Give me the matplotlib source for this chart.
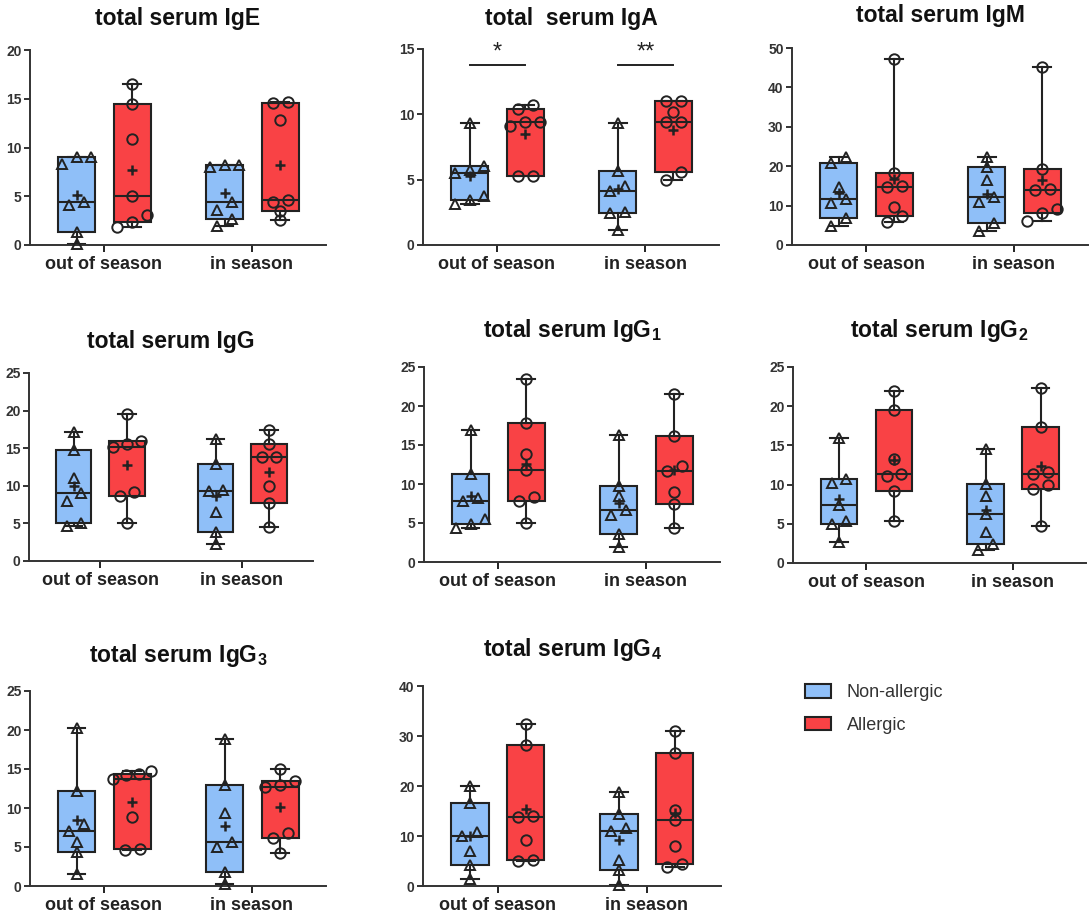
import matplotlib
matplotlib.use('Agg')
import matplotlib.pyplot as plt
from matplotlib.patches import Patch
import numpy as np

plt.rcParams['font.family'] = ['Liberation Sans', 'DejaVu Sans']
plt.rcParams['mathtext.default'] = 'regular'

W, H = 1091, 917
BLUE = '#8fbff8'
RED = '#f94245'
INK = '#222222'

seasons = ['out of season', 'in season']
groups = ['Non-allergic', 'Allergic']

# values, 7 subjects per group
ige_non_out = [9.0, 8.3, 9.0, 4.1, 4.4, 1.3, 0.1]
ige_all_out = [16.5, 14.5, 10.9, 5.0, 3.1, 2.4, 1.8]
ige_non_in = [8.2, 8.0, 8.2, 4.4, 3.6, 2.7, 2.0]
ige_all_in = [14.7, 14.6, 12.8, 4.6, 4.4, 3.5, 2.6]

iga_non_out = [9.35, 6.05, 5.75, 5.5, 3.75, 3.45, 3.15]
iga_all_out = [10.7, 10.4, 9.45, 9.45, 9.1, 5.3, 5.3]
iga_non_in = [9.3, 5.7, 4.5, 4.1, 2.55, 2.45, 1.15]
iga_all_in = [11.05, 11.05, 10.2, 9.4, 9.4, 5.55, 4.95]

igm_non_out = [22.4, 20.9, 14.8, 11.8, 10.6, 6.8, 4.9]
igm_all_out = [47.3, 18.3, 14.6, 15.0, 9.7, 7.3, 5.8]
igm_non_in = [22.4, 19.8, 16.5, 12.3, 11.0, 5.6, 3.6]
igm_all_in = [45.2, 19.4, 14.0, 14.3, 9.2, 8.1, 6.0]

igg_non_out = [17.2, 14.8, 11.0, 9.0, 8.0, 5.0, 4.7]
igg_all_out = [19.5, 16.0, 15.2, 15.5, 9.2, 8.6, 5.1]
igg_non_in = [16.2, 12.9, 9.4, 9.3, 6.5, 3.8, 2.3]
igg_all_in = [17.4, 15.5, 13.8, 13.8, 10.0, 7.7, 4.5]

igg1_non_out = [16.9, 11.3, 8.2, 7.8, 5.5, 4.9, 4.4]
igg1_all_out = [23.5, 17.8, 13.9, 11.8, 8.3, 7.8, 5.0]
igg1_non_in = [16.3, 9.7, 8.4, 6.7, 6.0, 3.6, 1.9]
igg1_all_in = [21.5, 16.2, 12.3, 11.7, 9.0, 7.4, 4.4]

igg2_non_out = [15.9, 10.7, 10.2, 7.4, 5.4, 5.0, 2.7]
igg2_all_out = [21.9, 19.5, 13.3, 11.1, 11.4, 9.2, 5.4]
igg2_non_in = [14.5, 10.1, 8.5, 6.3, 3.9, 2.4, 1.6]
igg2_all_in = [22.3, 17.4, 11.4, 11.6, 10.0, 9.4, 4.7]

igg3_non_out = [20.2, 12.2, 8.0, 7.0, 5.6, 4.3, 1.6]
igg3_all_out = [14.7, 14.3, 14.2, 13.7, 8.8, 4.6, 4.7]
igg3_non_in = [18.9, 12.9, 9.3, 5.7, 5.0, 1.8, 0.3]
igg3_all_in = [15.0, 13.5, 12.7, 13.0, 6.8, 6.1, 4.2]

igg4_non_out = [20.0, 16.6, 10.8, 10.1, 7.0, 4.3, 1.4]
igg4_all_out = [32.4, 28.2, 13.8, 14.0, 9.3, 5.1, 5.2]
igg4_non_in = [18.9, 14.5, 11.0, 11.6, 5.3, 3.3, 0.2]
igg4_all_in = [31.0, 26.6, 13.3, 15.2, 8.1, 4.5, 3.8]

# significance marks (IgA only)
iga_stars = ['*', '**']

panels = [
    # title, data, ymax, ystep, axes box in px (left, top, bottom, width), title baseline
    ('total serum IgE', [ige_non_out, ige_all_out, ige_non_in, ige_all_in], 20, 5, (30, 50, 245, 296), 25),
    ('total  serum IgA', [iga_non_out, iga_all_out, iga_non_in, iga_all_in], 15, 5, (423, 49, 245, 296), 25),
    ('total serum IgM', [igm_non_out, igm_all_out, igm_non_in, igm_all_in], 50, 10, (792, 48, 245, 296), 22),
    ('total serum IgG', [igg_non_out, igg_all_out, igg_non_in, igg_all_in], 25, 5, (29, 373, 561, 284), 348),
    ('total serum IgG$_1$', [igg1_non_out, igg1_all_out, igg1_non_in, igg1_all_in], 25, 5, (424, 367, 562, 296), 337),
    ('total serum IgG$_2$', [igg2_non_out, igg2_all_out, igg2_non_in, igg2_all_in], 25, 5, (793, 367, 563, 293), 337),
    ('total serum IgG$_3$', [igg3_non_out, igg3_all_out, igg3_non_in, igg3_all_in], 25, 5, (30, 691, 886, 296), 662),
    ('total serum IgG$_4$', [igg4_non_out, igg4_all_out, igg4_non_in, igg4_all_in], 40, 10, (423, 686, 886, 298), 656),
]


def spread(vals, span, step=0.1, tol=0.045):
    # simple swarm: points close in value get pushed sideways
    vals = np.asarray(vals)
    order = np.argsort(vals)
    offs = np.zeros(len(vals))
    clusters = [[order[0]]]
    for i in order[1:]:
        if vals[i] - vals[clusters[-1][-1]] < tol * span:
            clusters[-1].append(i)
        else:
            clusters.append([i])
    for c in clusters:
        k = len(c)
        st = min(step, 0.26 / max(k - 1, 1))
        for j, i in enumerate(c):
            offs[i] = (j - (k - 1) / 2) * st
    return offs


def box_stats(v):
    v = np.asarray(v)
    q1, med, q3 = np.percentile(v, [25, 50, 75], method='weibull')
    return dict(med=med, q1=q1, q3=q3, whislo=v.min(), whishi=v.max(),
                mean=v.mean(), fliers=[])


fig = plt.figure(figsize=(W / 100, H / 100), dpi=100)

for idx, (title, data, ymax, ystep, (l, t, b, w), tb) in enumerate(panels):
    ax = fig.add_axes([l / W, 1 - b / H, w / W, (b - t) / H])
    pos = [0.815, 1.19, 1.815, 2.19]
    colors = [BLUE, RED, BLUE, RED]
    markers = ['^', 'o', '^', 'o']
    stats = [box_stats(d) for d in data]
    bp = ax.bxp(stats, positions=pos, widths=0.25, patch_artist=True,
                showmeans=True, showfliers=False, capwidths=0.12,
                boxprops=dict(linewidth=1.5, edgecolor=INK),
                whiskerprops=dict(linewidth=1.5, color=INK),
                capprops=dict(linewidth=1.5, color=INK),
                medianprops=dict(linewidth=1.5, color=INK),
                meanprops=dict(marker='+', markersize=7.5, markeredgewidth=1.8,
                               markeredgecolor=INK, zorder=5))
    for patch, c in zip(bp['boxes'], colors):
        patch.set_facecolor(c)
    for d, p, m in zip(data, pos, markers):
        x = p + spread(d, ymax)
        ax.plot(x, d, linestyle='none', marker=m, markersize=7.5 if m == 'o' else 7,
                markerfacecolor='none', markeredgecolor=INK, markeredgewidth=1.4,
                clip_on=False, zorder=4)

    ax.set_xlim(0.5, 2.5)
    ax.set_ylim(0, ymax)
    ax.set_yticks(np.arange(0, ymax + 0.1, ystep))
    ax.set_xticks([1, 2])
    ax.set_xticklabels(seasons, fontsize=13, fontweight='bold', color=INK)
    for lab in ax.get_yticklabels():
        lab.set_fontsize(10)
        lab.set_fontweight('bold')
        lab.set_color('#333333')
    ax.tick_params(axis='y', length=4, width=1.4, pad=2, colors='#333333')
    ax.tick_params(axis='x', length=5, width=1.4, pad=3, colors=INK)
    for lab in ax.get_xticklabels():
        lab.set_color(INK)
    for s in ['top', 'right']:
        ax.spines[s].set_visible(False)
    for s in ['left', 'bottom']:
        ax.spines[s].set_linewidth(1.4)
        ax.spines[s].set_color('#333333')

    fig.text((l + w / 2) / W, 1 - tb / H, title, ha='center', va='baseline',
             fontsize=16.5, fontweight='bold', color='#111111')

    if idx == 1:
        for k, star in enumerate(iga_stars):
            x0, x1 = pos[2 * k], pos[2 * k + 1]
            ax.plot([x0, x1], [13.8, 13.8], color=INK, linewidth=1.4)
            ax.text((x0 + x1) / 2, 13.9, star, ha='center', va='bottom',
                    fontsize=17, color=INK)

handles = [Patch(facecolor=BLUE, edgecolor=INK, linewidth=1.5),
           Patch(facecolor=RED, edgecolor=INK, linewidth=1.5)]
fig.legend(handles, groups, loc='upper left', bbox_to_anchor=(805 / W, 1 - 684 / H),
           frameon=False, fontsize=13, handlelength=1.45, handleheight=0.8,
           handletextpad=0.85, labelspacing=0.85, borderpad=0, borderaxespad=0,
           labelcolor='#333333')

fig.savefig('out.png', dpi=100)
